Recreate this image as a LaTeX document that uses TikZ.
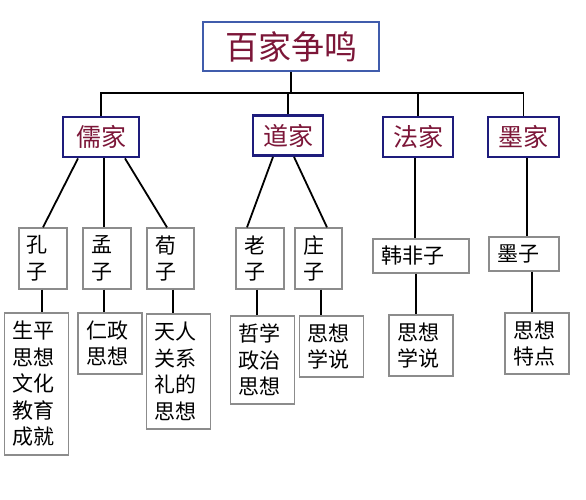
\documentclass[tikz,border=0pt]{standalone}
\usepackage{fontspec}
\newfontfamily\cjk{Noto Sans CJK SC}
\usepackage{tikz}
\usetikzlibrary{calc}

\definecolor{rootblue}{RGB}{64,92,172}
\definecolor{navy}{RGB}{30,28,124}
\definecolor{maroon}{RGB}{124,22,56}
\definecolor{boxgray}{RGB}{140,140,140}

\begin{document}
\begin{tikzpicture}[
    x=1pt, y=-1pt,
    rootbox/.style={draw=rootblue, line width=2.4pt, fill=white, minimum width=176pt, minimum height=49pt, inner sep=0pt, text=maroon, font=\cjk\fontsize{33}{36}\selectfont},
    schoolbox/.style={draw=navy, line width=2.8pt, fill=white, minimum height=40pt, inner sep=0pt, text=maroon, font=\cjk\fontsize{25}{28}\selectfont},
    personbox/.style={draw=boxgray, line width=1.3pt, fill=white, inner xsep=8pt, inner ysep=3pt, align=left, font=\cjk\fontsize{21}{26.5}\selectfont},
    ideabox/.style={personbox, text width=48pt, minimum width=64pt},
    link/.style={draw=black, line width=1.8pt}
]
\fill[white] (0,0) rectangle (586,500);

% Root
\node[rootbox] (root) at (291,46.5) {百家争鸣};

% Schools
\node[schoolbox, minimum width=76pt] (ru) at (101,137) {儒家};
\node[schoolbox, minimum width=70pt] (dao) at (288,135.5) {道家};
\node[schoolbox, minimum width=70pt] (fa) at (418,137) {法家};
\node[schoolbox, minimum width=71pt] (mo) at (523.5,137) {墨家};

% Bus from root to schools
\coordinate (bus) at (0,93);
\draw[link] (root.south) -- (root.south |- bus);
\draw[link] (ru.north) -- (ru.north |- bus) -- (mo.north |- bus) -- (mo.north);
\draw[link] (dao.north) -- (dao.north |- bus);
\draw[link] (fa.north) -- (fa.north |- bus);

% Thinkers
\node[personbox, text width=32pt, minimum height=61pt] (kong) at (43,258.5) {孔\\子};
\node[personbox, text width=32pt, minimum height=61pt] (meng) at (107,258.5) {孟\\子};
\node[personbox, text width=31pt, minimum height=61pt] (xun) at (170.5,258.5) {荀\\子};
\node[personbox, text width=32pt, minimum height=61pt] (lao) at (260,258.5) {老\\子};
\node[personbox, text width=31pt, minimum height=61pt] (zhuang) at (318.5,258.5) {庄\\子};
\node[personbox, text width=80pt, minimum height=34pt] (han) at (421,256) {韩非子};
\node[personbox, text width=54pt, minimum height=34pt] (mozi) at (524,254) {墨子};

\draw[link] ([xshift=-23pt]ru.south) -- (kong.north);
\draw[link] ([xshift=3pt]ru.south) -- ([xshift=-3pt]meng.north);
\draw[link] ([xshift=24pt]ru.south) -- ([xshift=-3.5pt]xun.north);
\draw[link] ([xshift=-15pt]dao.south) -- ([xshift=-13pt]lao.north);
\draw[link] ([xshift=6pt]dao.south) -- ([xshift=8.5pt]zhuang.north);
\draw[link] ([xshift=-3pt]fa.south) -- ([xshift=-3pt]fa.south |- han.north);
\draw[link] ([xshift=3.5pt]mo.south) -- ([xshift=3.5pt]mo.south |- mozi.north);

% Ideas
\node[ideabox, minimum height=142pt] (kongs) at (36.5,384) {生平\\思想\\文化\\教育\\成就};
\node[ideabox, minimum height=61pt] (mengs) at (110,343.5) {仁政\\思想};
\node[ideabox, minimum height=115pt] (xuns) at (178.5,371.5) {天人\\关系\\礼的\\思想};
\node[ideabox, minimum height=88pt] (laos) at (262.5,360) {哲学\\政治\\思想};
\node[ideabox, minimum height=61pt] (zhuangs) at (331.5,346.5) {思想\\学说};
\node[ideabox, minimum height=61pt] (hans) at (421,345.5) {思想\\学说};
\node[ideabox, minimum height=61pt] (mozis) at (537,343.5) {思想\\特点};

\draw[link] ([xshift=-1pt]kong.south) -- ([xshift=-1pt]kong.south |- kongs.north);
\draw[link] ([xshift=-3pt]meng.south) -- ([xshift=-3pt]meng.south |- mengs.north);
\draw[link] ([xshift=2.5pt]xun.south) -- ([xshift=2.5pt]xun.south |- xuns.north);
\draw[link] ([xshift=-3pt]lao.south) -- ([xshift=-3pt]lao.south |- laos.north);
\draw[link] ([xshift=2.5pt]zhuang.south) -- ([xshift=2.5pt]zhuang.south |- zhuangs.north);
\draw[link] ([xshift=-5pt]han.south) -- ([xshift=-5pt]han.south |- hans.north);
\draw[link] ([xshift=8pt]mozi.south) -- ([xshift=8pt]mozi.south |- mozis.north);

\end{tikzpicture}
\end{document}
